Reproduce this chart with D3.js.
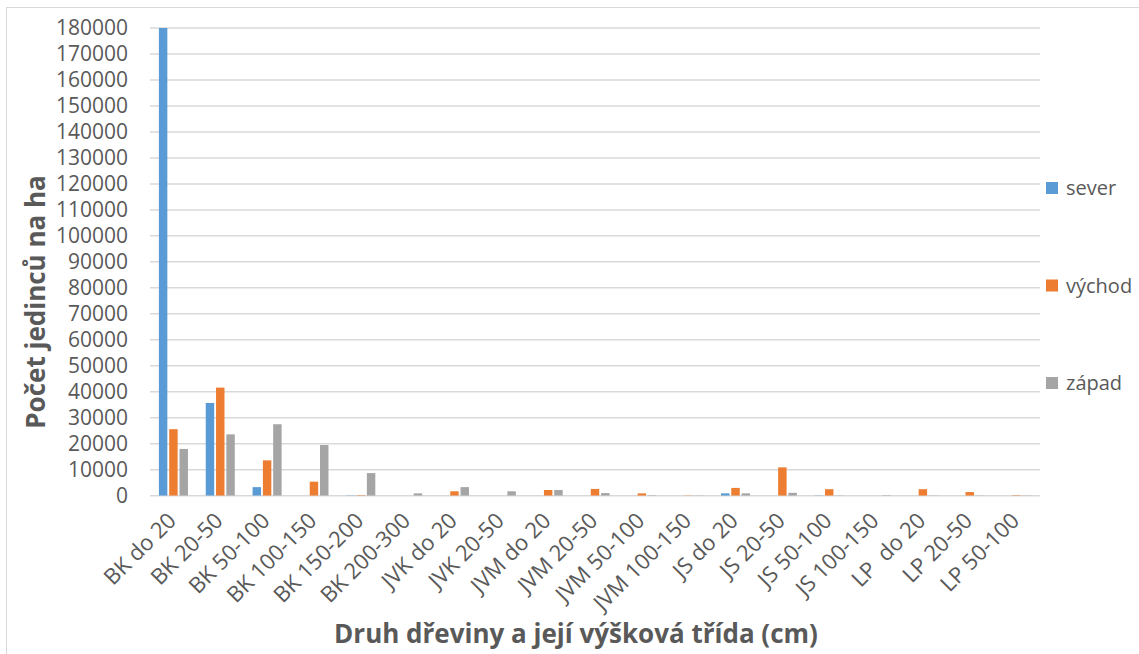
<!DOCTYPE html>
<meta charset="utf-8">
<head>
    <title>Počet jedinců na ha</title>
    <style>
        body { margin: 0; background: #fff; }
        svg text { font-family: "Open Sans", "Noto Sans", sans-serif; fill: #595959; }
    </style>
</head>
<body>
<svg width="1139" height="654"></svg>
<script src="https://d3js.org/d3.v7.min.js"></script>
<script>

    // categories on the x axis
    var categories = ["BK do 20", "BK 20-50", "BK 50-100", "BK 100-150", "BK 150-200", "BK 200-300",
        "JVK do 20", "JVK 20-50", "JVM do 20", "JVM 20-50", "JVM 50-100", "JVM 100-150",
        "JS do 20", "JS 20-50", "JS 50-100", "JS 100-150", "LP  do 20", "LP 20-50", "LP 50-100"];

    // series values
    var sever  = [180000, 35700, 3300, 0, 100, 0, 0, 0, 0, 0, 0, 0, 900, 0, 100, 0, 0, 0, 0];
    var vychod = [25600, 41600, 13600, 5400, 200, 0, 1700, 0, 2200, 2600, 900, 100, 3000, 10900, 2500, 0, 2500, 1400, 200];
    var zapad  = [18000, 23600, 27500, 19500, 8700, 900, 3300, 1700, 2200, 1000, 200, 100, 900, 1100, 100, 200, 100, 100, 100];

    var seriesNames = ["sever", "východ", "západ"];
    var seriesData = [sever, vychod, zapad];
    var colors = ["#5b9bd5", "#ed7d31", "#a5a5a5"];

    // y ticks
    var yTicks = d3.range(0, 180001, 10000);

    var svg = d3.select("svg");

    // outer chart border
    svg.append("rect")
        .attr("x", 6.5).attr("y", 7.5)
        .attr("width", 1140).attr("height", 660)
        .attr("fill", "none")
        .attr("stroke", "#d9d9d9");

    var plot = {left: 150, right: 1040, top: 28, bottom: 495.7};

    var x = d3.scaleBand()
        .domain(categories)
        .range([plot.left, plot.right])
        .paddingInner(0.38)
        .paddingOuter(0.19);

    var xs = d3.scaleBand()
        .domain(d3.range(seriesNames.length))
        .range([0, x.bandwidth()])
        .paddingInner(0.18);

    var y = d3.scaleLinear()
        .domain([0, 180000])
        .range([plot.bottom, plot.top]);

    //gridlines
    svg.append("g")
        .selectAll("line")
        .data(yTicks)
        .enter().append("line")
        .attr("x1", plot.left)
        .attr("x2", plot.right)
        .attr("y1", function(d) { return y(d); })
        .attr("y2", function(d) { return y(d); })
        .attr("stroke", "#d9d9d9")
        .attr("stroke-width", 1.5);

    //y axis labels
    var yAxis = svg.append("g")
        .attr("transform", "translate(" + plot.left + ",0)")
        .call(d3.axisLeft(y).tickValues(yTicks).tickSize(0).tickPadding(22).tickFormat(d3.format("d")));
    yAxis.select(".domain").remove();
    yAxis.selectAll("text")
        .style("font-size", "21px")
        .style("font-family", "'Open Sans', sans-serif")
        .attr("fill", "#595959");

    //bars, clipped to the plot area
    svg.append("defs").append("clipPath").attr("id", "plotclip")
        .append("rect")
        .attr("x", plot.left).attr("y", plot.top)
        .attr("width", plot.right - plot.left)
        .attr("height", plot.bottom - plot.top);

    var groups = svg.append("g")
        .attr("clip-path", "url(#plotclip)")
        .selectAll("g")
        .data(seriesData)
        .enter().append("g")
        .attr("fill", function(d, i) { return colors[i]; });

    groups.each(function(values, si) {
        d3.select(this).selectAll("rect")
            .data(values)
            .enter().append("rect")
            .attr("x", function(d, i) { return x(categories[i]) + xs(si); })
            .attr("width", xs.bandwidth())
            .attr("y", function(d) { return y(d); })
            .attr("height", function(d) { return y(0) - y(d); });
    });

    //x axis labels
    svg.append("g")
        .selectAll("text")
        .data(categories)
        .enter().append("text")
        .attr("transform", function(d) {
            return "translate(" + (x(d) + x.bandwidth() / 2 + 4) + "," + 522 + ") rotate(-45)";
        })
        .attr("text-anchor", "end")
        .style("font-size", "22px")
        .style("white-space", "pre")
        .text(function(d) { return d; });

    //axis titles
    svg.append("text")
        .attr("x", 576)
        .attr("y", 643)
        .attr("text-anchor", "middle")
        .style("font-size", "26px")
        .style("font-weight", "bold")
        .text("Druh dřeviny a její výšková třída (cm)");

    svg.append("text")
        .attr("transform", "translate(45,302) rotate(-90)")
        .attr("text-anchor", "middle")
        .style("font-size", "26px")
        .style("font-weight", "bold")
        .text("Počet jedinců na ha");

    //legend
    var legend = svg.append("g")
        .selectAll("g")
        .data(seriesNames)
        .enter().append("g")
        .attr("transform", function(d, i) { return "translate(1046," + (188 + i * 97.5) + ")"; });

    legend.append("rect")
        .attr("x", 0).attr("y", -6)
        .attr("width", 12).attr("height", 12)
        .attr("fill", function(d, i) { return colors[i]; });

    legend.append("text")
        .attr("x", 20)
        .attr("dy", "0.35em")
        .style("font-size", "20px")
        .text(function(d) { return d; });

</script>
</body>
